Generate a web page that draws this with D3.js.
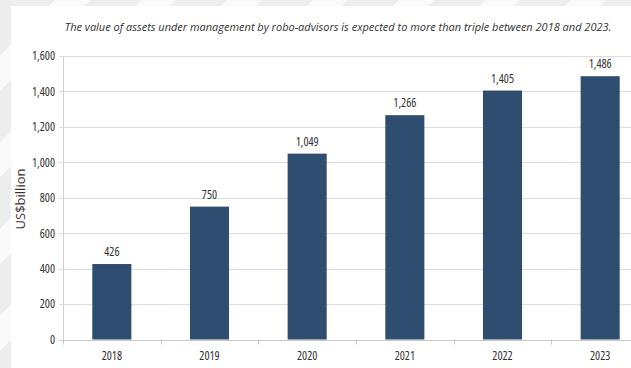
<!DOCTYPE html>
<html>
<head>
<meta charset="utf-8">
<script src="https://cdn.jsdelivr.net/npm/d3@7"></script>
<style>
  body { margin: 0; background: #fff; }
  svg { display: block; }
  text { font-family: 'Open Sans', sans-serif; fill: #333; }
</style>
</head>
<body>
<div id="chart"></div>
<script>
///////////////////////////
// DATA
///////////////////////////

const years = ['2018', '2019', '2020', '2021', '2022', '2023'];
const aum = [426, 750, 1049, 1266, 1405, 1486];
const yTicks = [0, 200, 400, 600, 800, 1000, 1200, 1400, 1600];
const title = 'The value of assets under management by robo-advisors is expected to more than triple between 2018 and 2023.';
const yLabel = 'US$billion';

const width = 631;
const height = 368;

let svg = d3.select('#chart')
    .append('svg')
    .attr('width', width)
    .attr('height', height);

// watermark-ish background behind the white panel
svg.append('rect')
    .attr('width', width)
    .attr('height', height)
    .style('fill', '#ededed');

let stripes = [0, 1, 2, 3, 4, 5, 6];
svg.selectAll('.stripe')
    .data(stripes)
    .enter().append('path')
    .attr('class', 'stripe')
    .attr('d', (d) => {
        let x0 = 55 + d * 86;
        return `M${x0},0 L${x0 + 35},0 L${x0 - 330},368 L${x0 - 365},368 Z`;
    })
    .style('fill', '#fafafa');

svg.append('rect')
    .attr('x', 11)
    .attr('y', 6)
    .attr('width', width)
    .attr('height', height)
    .style('fill', '#fff');

///////////////////////////
// SCALES
///////////////////////////

let x = d3.scaleBand()
    .domain(years)
    .range([63, 649])
    .paddingInner(0.6)
    .paddingOuter(0.3);

let y = d3.scaleLinear()
    .domain([0, 1600])
    .range([339.5, 56]);

// gridlines
svg.append('g')
    .selectAll('line')
    .data(yTicks)
    .enter().append('line')
    .attr('x1', 59)
    .attr('x2', width)
    .attr('y1', (d) => { return Math.round(y(d)) + 0.5 })
    .attr('y2', (d) => { return Math.round(y(d)) + 0.5 })
    .style('stroke', (d) => { return d === 0 ? '#c8c8c8' : '#dcdcdc' })
    .style('stroke-width', 1.2);

// y axis line
svg.append('line')
    .attr('x1', 63.5).attr('x2', 63.5)
    .attr('y1', y(1600)).attr('y2', y(0))
    .style('stroke', '#d0d0d0');

// y tick labels
let yAxis = svg.append('g')
    .attr('transform', 'translate(63,0)')
    .call(d3.axisLeft(y).tickValues(yTicks).tickSize(0).tickPadding(8).tickFormat(d3.format(',')));
yAxis.select('.domain').remove();
yAxis.selectAll('text')
    .style('font-family', "'Open Sans', sans-serif")
    .style('font-stretch', '87.5%')
    .style('font-size', '12px')
    .style('fill', '#333');

// x axis ticks at band boundaries
let step = x.step();
let bounds = d3.range(years.length + 1).map((i) => { return 63 + i * step });
svg.append('g')
    .selectAll('line')
    .data(bounds)
    .enter().append('line')
    .attr('x1', (d) => { return Math.round(d) + 0.5 })
    .attr('x2', (d) => { return Math.round(d) + 0.5 })
    .attr('y1', y(0))
    .attr('y2', y(0) + 5)
    .style('stroke', '#c8c8c8');

let xAxis = svg.append('g')
    .attr('transform', `translate(0,${y(0)})`)
    .call(d3.axisBottom(x).tickSize(0).tickPadding(12));
xAxis.select('.domain').remove();
xAxis.selectAll('text')
    .style('font-family', "'Open Sans', sans-serif")
    .style('font-stretch', '87.5%')
    .style('font-size', '12px')
    .style('fill', '#333');

///////////////////////////
// BARS
///////////////////////////

let bars = years.map((yr, i) => { return { year: yr, value: aum[i] } });

svg.selectAll('.bar')
    .data(bars)
    .enter().append('rect')
    .attr('class', 'bar')
    .attr('x', (d) => { return x(d.year) })
    .attr('y', (d) => { return y(d.value) })
    .attr('width', x.bandwidth())
    .attr('height', (d) => { return y(0) - y(d.value) })
    .style('fill', '#2f4e6f');

svg.selectAll('.value')
    .data(bars)
    .enter().append('text')
    .attr('class', 'value')
    .attr('x', (d) => { return x(d.year) + x.bandwidth() / 2 })
    .attr('y', (d) => { return y(d.value) - 8 })
    .attr('text-anchor', 'middle')
    .style('font-stretch', '87.5%')
    .style('font-size', '12px')
    .text((d) => { return d3.format(',')(d.value) });

///////////////////////////
// TITLES
///////////////////////////

let t = svg.append('text')
    .attr('x', 338)
    .attr('y', 31)
    .attr('text-anchor', 'middle')
    .style('font-style', 'italic')
    .style('font-size', '12px')
    .text(title);

// fit title to the reference width
let tw = t.node().getComputedTextLength();
t.style('font-size', (12 * 547 / tw) + 'px');

svg.append('text')
    .attr('transform', 'translate(25,199) rotate(-90)')
    .attr('text-anchor', 'middle')
    .style('font-size', '13px')
    .text(yLabel);
</script>
</body>
</html>
